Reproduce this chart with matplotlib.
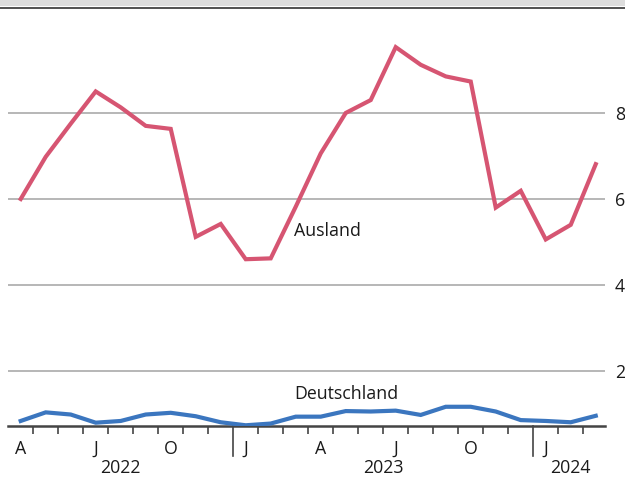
import numpy as np
import matplotlib.pyplot as plt
import matplotlib.transforms as mtransforms
from matplotlib.patches import Rectangle

plt.rcParams['font.family'] = ['Open Sans', 'DejaVu Sans']

# monthly values, April 2022 .. March 2024
months = ['A', '', '', 'J', '', '', 'O', '', '', 'J', '', '',
          'A', '', '', 'J', '', '', 'O', '', '', 'J', '', '']
ausland = [6.00, 6.98, 7.75, 8.50, 8.13, 7.70, 7.63, 5.12, 5.42, 4.60, 4.62, 5.82,
           7.06, 8.00, 8.30, 9.53, 9.12, 8.85, 8.73, 5.80, 6.19, 5.06, 5.40, 6.81]
deutschland = [0.84, 1.04, 0.99, 0.80, 0.84, 0.99, 1.03, 0.95, 0.81, 0.74, 0.78, 0.94,
               0.94, 1.07, 1.06, 1.08, 0.98, 1.17, 1.17, 1.06, 0.86, 0.84, 0.81, 0.96]
years = ['2022', '2023', '2024']
year_first_idx = [0, 9, 21]
year_last_idx = [8, 20, 23]

red = '#d65572'
blue = '#3b76bf'
txt = '#1a1a1a'
fs = 12.8

fig = plt.figure(figsize=(6.25, 4.79), dpi=100)
ax = fig.add_axes([8 / 625, (479 - 425.7) / 479, (605 - 8) / 625, (425.7 - 8) / 479])

# header band
fig.patches.append(Rectangle((0, 1 - 6 / 479), 1, 6 / 479, transform=fig.transFigure,
                             facecolor='#dddddd', edgecolor='none'))
fig.patches.append(Rectangle((0, 1 - 8.5 / 479), 1, 2 / 479, transform=fig.transFigure,
                             facecolor='#555555', edgecolor='none'))

x = np.arange(len(ausland))
ax.plot(x, ausland, color=red, lw=3.0, solid_joinstyle='miter', zorder=3)
ax.plot(x, deutschland, color=blue, lw=3.0, solid_joinstyle='miter', zorder=3)

ax.set_xlim(-0.508, 23.37)
ax.set_ylim(0.73, 10.44)

for v in [2, 4, 6, 8]:
    ax.axhline(v, color='#aaaaaa', lw=1.2, zorder=1)

for s in ['top', 'left', 'right']:
    ax.spines[s].set_visible(False)
ax.spines['bottom'].set_color('#444444')
ax.spines['bottom'].set_linewidth(1.8)

ax.yaxis.tick_right()
ax.set_yticks([2, 4, 6, 8])
ax.tick_params(axis='y', length=0, pad=7, labelsize=fs, labelcolor=txt)

# month labels (no marks) and boundary ticks between months
ax.set_xticks(x)
ax.set_xticklabels(months)
ax.tick_params(axis='x', which='major', length=0, pad=10, labelsize=fs, labelcolor=txt)
bounds = [i + 0.5 for i in range(len(x) - 1) if i + 1 not in year_first_idx]
ax.set_xticks(bounds, minor=True)
ax.tick_params(axis='x', which='minor', length=6, width=1.2, color='#444444', direction='out')

trans = mtransforms.blended_transform_factory(ax.transData, ax.transAxes)
for i in year_first_idx[1:]:
    ax.plot([i - 0.5, i - 0.5], [0, -30 / 417.7], transform=trans, color='#444444',
            lw=1.2, clip_on=False)
for name, a, b in zip(years, year_first_idx, year_last_idx):
    ax.text((a + b) / 2, -42 / 417.7, name, transform=trans, ha='center', va='center',
            fontsize=fs, color=txt)

ax.text(10.93, 5.26, 'Ausland', ha='left', va='center', fontsize=fs, color=txt)
ax.text(10.93, 1.47, 'Deutschland', ha='left', va='center', fontsize=fs, color=txt)

fig.savefig('out.png', dpi=100)
